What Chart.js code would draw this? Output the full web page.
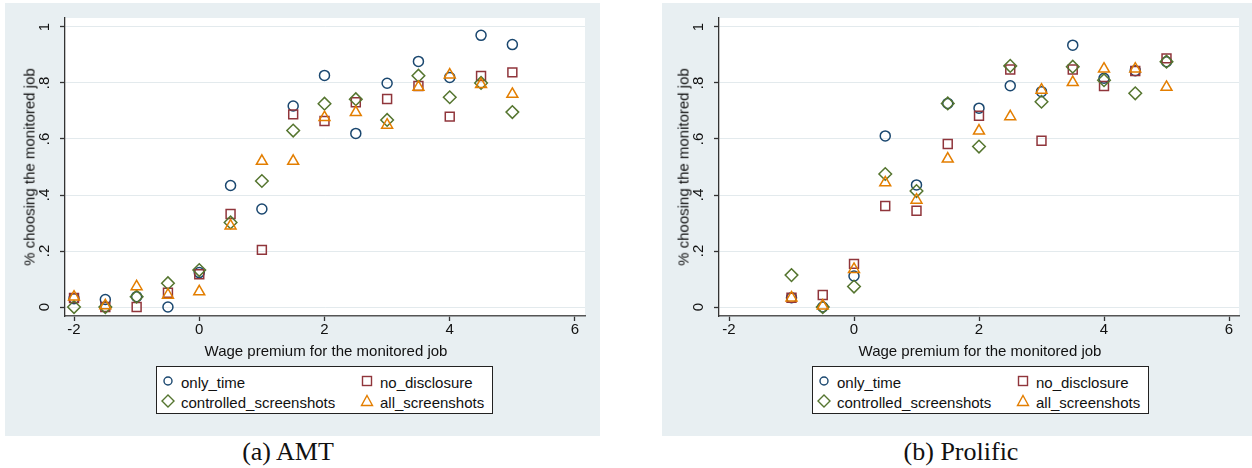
<!DOCTYPE html>
<html>
<head>
<meta charset="utf-8">
<script src="https://cdn.jsdelivr.net/npm/chart.js@4.4.1/dist/chart.umd.min.js"></script>
<style>
body { margin: 0; width: 1252px; height: 468px; background: #fff; position: relative; overflow: hidden;
       font-family: "Liberation Sans", Arial, sans-serif; color: #111; }
.panel { position: absolute; top: 3px; height: 433px; background: #e8eff2; }
.panel canvas { position: absolute; left: 0; top: 0; }
.ytitle { position: absolute; transform: translate(-50%, -50%) rotate(-90deg); white-space: nowrap; font-size: 15px; }
.xtitle { position: absolute; transform: translate(-50%, -50%); white-space: nowrap; font-size: 15px; }
.legend { position: absolute; top: 366px; width: 337px; height: 48px; border: 1px solid #222; background: #fff; box-sizing: border-box; }
.legend span { position: absolute; font-size: 15px; transform: translateY(-50%); white-space: nowrap; }
.legend svg { position: absolute; }
.caption { position: absolute; top: 452px; transform: translate(-50%, -50%); font-family: "Liberation Serif", "Times New Roman", serif;
           font-size: 26px; white-space: nowrap; }
</style>
</head>
<body>
<div class="panel" style="left:5px;width:595px"><canvas id="amt" width="595" height="433"></canvas></div>
<div class="panel" style="left:662px;width:590px"><canvas id="prolific" width="590" height="433"></canvas></div>

<div class="ytitle" style="left:29px;top:167px">% choosing the monitored job</div>
<div class="ytitle" style="left:683px;top:167px">% choosing the monitored job</div>
<div class="xtitle" style="left:326px;top:350px">Wage premium for the monitored job</div>
<div class="xtitle" style="left:980px;top:350px">Wage premium for the monitored job</div>

<div class="legend" id="legA" style="left:156px"></div>
<div class="legend" id="legB" style="left:812px"></div>

<div class="caption" style="left:288px">(a) AMT</div>
<div class="caption" style="left:961px">(b) Prolific</div>

<script>
// wage premium levels
const premiumAmt = [-2, -1.5, -1, -0.5, 0, 0.5, 1, 1.5, 2, 2.5, 3, 3.5, 4, 4.5, 5];
const premiumProlific = [-1, -0.5, 0, 0.5, 1, 1.5, 2, 2.5, 3, 3.5, 4, 4.5, 5];

// (a) AMT
const amtOnlyTime   = [0.03, 0.027, 0.037, 0, 0.123, 0.434, 0.35, 0.718, 0.827, 0.62, 0.799, 0.877, 0.82, 0.97, 0.937];
const amtNoDisc     = [0.032, 0, 0, 0.051, 0.117, 0.332, 0.204, 0.688, 0.664, 0.731, 0.743, 0.789, 0.68, 0.825, 0.838];
const amtControlled = [0, 0, 0.037, 0.085, 0.132, 0.302, 0.45, 0.63, 0.726, 0.742, 0.668, 0.826, 0.749, 0.8, 0.696];
const amtAll        = [0.036, 0.005, 0.073, 0.043, 0.055, 0.29, 0.521, 0.521, 0.677, 0.695, 0.65, 0.785, 0.829, 0.795, 0.76];

// (b) Prolific
const proOnlyTime   = [0.033, 0, 0.111, 0.611, 0.436, 0.727, 0.71, 0.79, 0.769, 0.935, 0.817, 0.844, 0.876];
const proNoDisc     = [0.033, 0.043, 0.154, 0.361, 0.344, 0.582, 0.683, 0.848, 0.594, 0.848, 0.789, 0.843, 0.888];
const proControlled = [0.114, 0, 0.073, 0.475, 0.414, 0.727, 0.573, 0.861, 0.733, 0.858, 0.81, 0.763, 0.876];
const proAll        = [0.033, 0.004, 0.135, 0.444, 0.382, 0.529, 0.629, 0.68, 0.775, 0.802, 0.85, 0.85, 0.785];

const seriesNames = ['only_time', 'no_disclosure', 'controlled_screenshots', 'all_screenshots'];
const xTicks = [-2, 0, 2, 4, 6];
const xTickLabels = ['-2', '0', '2', '4', '6'];
const yTicks = [0, 0.2, 0.4, 0.6, 0.8, 1];
const yTickLabels = ['0', '.2', '.4', '.6', '.8', '1'];

const colors = ['#1a476f', '#90353b', '#55752f', '#e37e00'];
const shapes = ['circle', 'rect', 'rectRot', 'triangle'];
const radii = [5, 6.3, 6.3, 6.3];
const FONT = '"Liberation Sans", Arial, sans-serif';

const stataPlot = {
  id: 'stataPlot',
  beforeDraw(chart) {
    const {ctx, chartArea: a} = chart;
    ctx.save();
    ctx.fillStyle = '#fff';
    ctx.fillRect(a.left, a.top, a.right - a.left, a.bottom - a.top);
    ctx.restore();
  },
  afterDraw(chart) {
    // Stata style: y labels turned on their side
    const {ctx, chartArea: a, scales: {y}} = chart;
    ctx.save();
    ctx.font = '15px ' + FONT;
    ctx.fillStyle = '#111';
    ctx.textAlign = 'center';
    ctx.textBaseline = 'middle';
    yTicks.forEach((v, i) => {
      ctx.save();
      ctx.translate(a.left - 20, y.getPixelForValue(v));
      ctx.rotate(-Math.PI / 2);
      ctx.fillText(yTickLabels[i], 0, 0);
      ctx.restore();
    });
    ctx.restore();
  }
};

function makePanel(id, xs, series, xMin, xMax, axisW, padRight) {
  const datasets = series.map((vals, i) => ({
    label: seriesNames[i],
    data: xs.map((x, j) => ({x: x, y: vals[j]})),
    pointStyle: shapes[i],
    pointRadius: radii[i],
    pointHoverRadius: radii[i],
    pointBorderWidth: 1.5,
    borderColor: colors[i],
    backgroundColor: 'rgba(0,0,0,0)',
    order: 4 - i
  }));

  new Chart(document.getElementById(id), {
    type: 'scatter',
    data: {datasets: datasets},
    options: {
      responsive: false,
      animation: false,
      devicePixelRatio: 1,
      layout: {padding: {top: 15, right: padRight, left: 0, bottom: 0}},
      plugins: {legend: {display: false}, tooltip: {enabled: false}},
      scales: {
        x: {
          type: 'linear',
          min: xMin,
          max: xMax,
          afterBuildTicks: s => { s.ticks = xTicks.map(v => ({value: v})); },
          afterFit: s => { s.height = 120; },
          ticks: {
            callback: (v, i) => xTickLabels[i],
            color: '#111',
            font: {size: 15, family: FONT},
            padding: 0,
            maxRotation: 0,
            autoSkip: false
          },
          grid: {drawOnChartArea: false, drawTicks: true, tickLength: 5, tickColor: '#333', tickWidth: 1.3},
          border: {color: '#555', width: 1.6}
        },
        y: {
          min: -0.032,
          max: 1.032,
          afterBuildTicks: s => { s.ticks = yTicks.map(v => ({value: v})); },
          afterFit: s => { s.width = axisW; },
          ticks: {display: false},
          grid: {color: '#e3eaed', lineWidth: 1, drawTicks: true, tickLength: 5, tickColor: '#333', tickWidth: 1.3},
          border: {color: '#333', width: 1.3}
        }
      }
    },
    plugins: [stataPlot]
  });
}

makePanel('amt', premiumAmt, [amtOnlyTime, amtNoDisc, amtControlled, amtAll], -2.144, 6.16, 60, 15);
makePanel('prolific', premiumProlific, [proOnlyTime, proNoDisc, proControlled, proAll], -2.16, 6.16, 57, 13);

// legends, laid out in two columns like the Stata legend
function markerShape(i) {
  const c = colors[i];
  if (i === 0) return '<circle cx="6" cy="6" r="4" fill="none" stroke="' + c + '" stroke-width="1.4"/>';
  if (i === 1) return '<rect x="1.5" y="1.5" width="9" height="9" fill="none" stroke="' + c + '" stroke-width="1.4"/>';
  if (i === 2) return '<polygon points="7,1 13,7 7,13 1,7" fill="none" stroke="' + c + '" stroke-width="1.4"/>';
  return '<polygon points="7,1.5 12.5,11.5 1.5,11.5" fill="none" stroke="' + c + '" stroke-width="1.4"/>';
}
function buildLegend(id) {
  const box = document.getElementById(id);
  // row-wise: only_time, no_disclosure / controlled_screenshots, all_screenshots
  const slots = [[11, 15], [210, 15], [11, 35], [210, 35]];
  let html = '';
  seriesNames.forEach((name, s) => {
    const [mx, my] = slots[s];
    const sz = (s >= 2) ? 14 : 12;
    html += '<svg style="left:' + (mx - sz / 2) + 'px;top:' + (my - sz / 2 - 1) + 'px" width="' + sz + '" height="' + sz + '">' +
            markerShape(s) + '</svg>';
    html += '<span style="left:' + (mx + 13) + 'px;top:' + my + 'px">' + name + '</span>';
  });
  box.innerHTML = html;
}
buildLegend('legA');
buildLegend('legB');
</script>
</body>
</html>
